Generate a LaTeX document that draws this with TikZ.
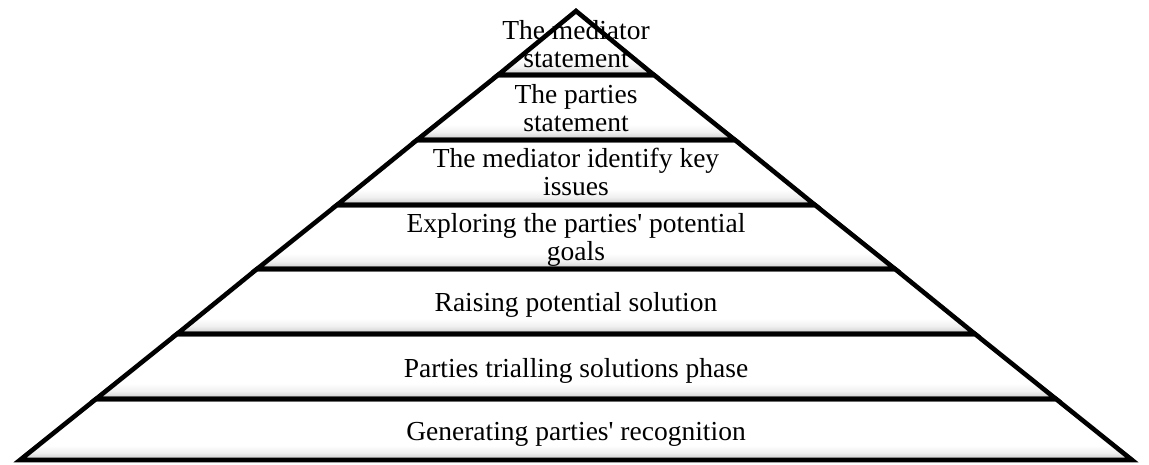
\documentclass[tikz,border=0pt]{standalone}
\usepackage{fontspec}
\setmainfont{Liberation Serif}
% white face with a soft grey band along the lower edge
\pgfdeclareverticalshading{bevel}{100bp}{color(0bp)=(black!10); color(25bp)=(black!9);
  color(27bp)=(black!17); color(31bp)=(black!6); color(37bp)=(white); color(100bp)=(white)}
\begin{document}
\begin{tikzpicture}[x=1pt,y=-1pt,
    layer/.style={shading=bevel},
    rim/.style={line width=4.6pt,line join=miter},
    lbl/.style={align=center,inner sep=0pt,font=\fontsize{27.5}{28}\selectfont}]
  \useasboundingbox (0,0) rectangle (1149,465);
  % corners of the pyramid, level by level
  \coordinate (top) at (576,11);
  \coordinate (l1) at (498,75);   \coordinate (r1) at (654,75);
  \coordinate (l2) at (417,140);  \coordinate (r2) at (735,140);
  \coordinate (l3) at (337,205);  \coordinate (r3) at (815,205);
  \coordinate (l4) at (257,269);  \coordinate (r4) at (895,269);
  \coordinate (l5) at (177,334);  \coordinate (r5) at (975,334);
  \coordinate (l6) at (96,399);   \coordinate (r6) at (1056,399);
  \coordinate (l7) at (20,460);   \coordinate (r7) at (1132,460);
  % shaded layers
  \shade[layer] (top) -- (r1) -- (l1) -- cycle;
  \shade[layer] (l1) -- (r1) -- (r2) -- (l2) -- cycle;
  \shade[layer] (l2) -- (r2) -- (r3) -- (l3) -- cycle;
  \shade[layer] (l3) -- (r3) -- (r4) -- (l4) -- cycle;
  \shade[layer] (l4) -- (r4) -- (r5) -- (l5) -- cycle;
  \shade[layer] (l5) -- (r5) -- (r6) -- (l6) -- cycle;
  \shade[layer] (l6) -- (r6) -- (r7) -- (l7) -- cycle;
  % labels
  \node[lbl] (mediator) at (576,44) {The mediator\\statement};
  \node[lbl] (parties) at (576,108) {The parties\\statement};
  \node[lbl] (issues) at (576,172) {The mediator identify key\\issues};
  \node[lbl] (goals) at (576,240) {Exploring the parties\textquotesingle{} potential\\goals};
  \node[lbl,anchor=base] (solution) at (576,312) {Raising potential solution};
  \node[lbl,anchor=base] (trial) at (576,377) {Parties trialling solutions phase};
  \node[lbl,anchor=base] (recognition) at (576,440) {Generating parties\textquotesingle{} recognition};
  % outlines, drawn over the labels
  \draw[rim] (top) -- (r1) -- (l1) -- cycle;
  \draw[rim] (l1) -- (r1) -- (r2) -- (l2) -- cycle;
  \draw[rim] (l2) -- (r2) -- (r3) -- (l3) -- cycle;
  \draw[rim] (l3) -- (r3) -- (r4) -- (l4) -- cycle;
  \draw[rim] (l4) -- (r4) -- (r5) -- (l5) -- cycle;
  \draw[rim] (l5) -- (r5) -- (r6) -- (l6) -- cycle;
  \draw[rim] (l6) -- (r6) -- (r7) -- (l7) -- cycle;
\end{tikzpicture}
\end{document}
